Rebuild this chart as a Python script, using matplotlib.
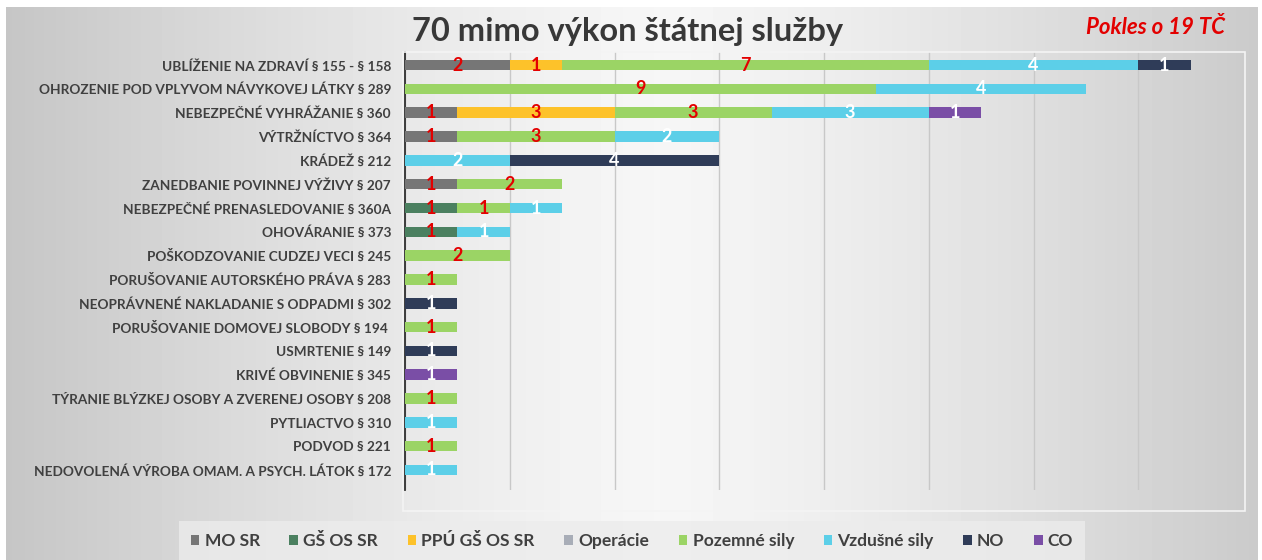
import numpy as np
import matplotlib
matplotlib.use('Agg')
import matplotlib.pyplot as plt
from matplotlib.patches import Rectangle, Patch

# categories, top to bottom
categories = [
    'UBLÍŽENIE NA ZDRAVÍ § 155 - § 158',
    'OHROZENIE POD VPLYVOM NÁVYKOVEJ LÁTKY § 289',
    'NEBEZPEČNÉ VYHRÁŽANIE § 360',
    'VÝTRŽNÍCTVO § 364',
    'KRÁDEŽ § 212',
    'ZANEDBANIE POVINNEJ VÝŽIVY § 207',
    'NEBEZPEČNÉ PRENASLEDOVANIE § 360A',
    'OHOVÁRANIE § 373',
    'POŠKODZOVANIE CUDZEJ VECI § 245',
    'PORUŠOVANIE AUTORSKÉHO PRÁVA § 283',
    'NEOPRÁVNENÉ NAKLADANIE S ODPADMI § 302',
    'PORUŠOVANIE DOMOVEJ SLOBODY § 194 ',
    'USMRTENIE § 149',
    'KRIVÉ OBVINENIE § 345',
    'TÝRANIE BLÝZKEJ OSOBY A ZVERENEJ OSOBY § 208',
    'PYTLIACTVO § 310',
    'PODVOD § 221',
    'NEDOVOLENÁ VÝROBA OMAM. A PSYCH. LÁTOK § 172',
]

series_names = ['MO SR', 'GŠ OS SR', 'PPÚ GŠ OS SR', 'Operácie',
                'Pozemné sily', 'Vzdušné sily', 'NO', 'CO']

mo_sr      = [2, 0, 1, 1, 0, 1, 0, 0, 0, 0, 0, 0, 0, 0, 0, 0, 0, 0]
gs_os_sr   = [0, 0, 0, 0, 0, 0, 1, 1, 0, 0, 0, 0, 0, 0, 0, 0, 0, 0]
ppu_gs     = [1, 0, 3, 0, 0, 0, 0, 0, 0, 0, 0, 0, 0, 0, 0, 0, 0, 0]
operacie   = [0, 0, 0, 0, 0, 0, 0, 0, 0, 0, 0, 0, 0, 0, 0, 0, 0, 0]
pozemne    = [7, 9, 3, 3, 0, 2, 1, 0, 2, 1, 0, 1, 0, 0, 1, 0, 1, 0]
vzdusne    = [4, 4, 3, 2, 2, 0, 1, 1, 0, 0, 0, 0, 0, 0, 0, 1, 0, 1]
no_vals    = [1, 0, 0, 0, 4, 0, 0, 0, 0, 0, 1, 0, 1, 0, 0, 0, 0, 0]
co_vals    = [0, 0, 1, 0, 0, 0, 0, 0, 0, 0, 0, 0, 0, 1, 0, 0, 0, 0]

series = [mo_sr, gs_os_sr, ppu_gs, operacie, pozemne, vzdusne, no_vals, co_vals]
colors = ['#767676', '#4b8060', '#fdc22a', '#a8adb7', '#9bd465', '#5ccfe8', '#2f3c58', '#7a4ea6']
label_colors = ['#e30000', '#e30000', '#e30000', '#e30000', '#e30000', 'white', 'white', 'white']

W, H = 1262, 560
fig = plt.figure(figsize=(W / 100, H / 100), dpi=100)
fig.patch.set_facecolor('white')

# gradient background
bg = fig.add_axes([6 / W, 0, 1 - 10 / W, 1 - 7 / H])
xs = np.linspace(0, 1, 400)
shade = 0.965 - 0.19 * (np.abs(xs - 0.52) / 0.52) ** 1.3
bg.imshow(np.tile(shade, (10, 1)), cmap='gray', vmin=0, vmax=1, aspect='auto',
          extent=[0, 1, 0, 1])
bg.axis('off')

# plot area frame
fig.patches.append(Rectangle((403 / W, 1 - 511 / H), (1245 - 403) / W, (511 - 52) / H,
                             transform=fig.transFigure, fill=False,
                             edgecolor='#f4f4f4', linewidth=1.2, zorder=1))

ax = fig.add_axes([405 / W, 1 - 490 / H, (1243 - 405) / W, (490 - 52) / H])
ax.set_facecolor('none')

y = np.arange(len(categories))
left = np.zeros(len(categories))
for vals, col, lc in zip(series, colors, label_colors):
    vals = np.array(vals, dtype=float)
    ax.barh(y, vals, left=left, height=0.44, color=col, zorder=3)
    for i, v in enumerate(vals):
        if v > 0:
            ax.text(left[i] + v / 2, y[i], f'{int(v)}', ha='center', va='center',
                    color=lc, fontsize=13, fontweight='bold', family='Lato', zorder=4)
    left += vals

ax.set_xlim(0, 16)
ax.set_ylim(17.84, -0.55)
ax.set_xticks(np.arange(0, 17, 2))
ax.set_xticklabels([])
ax.tick_params(axis='x', length=0)
ax.tick_params(axis='y', length=0, pad=10)
ax.set_yticks(y)
ax.set_yticklabels(categories, fontsize=9.8, fontweight='bold', color='#404040', family='Lato')
ax.grid(axis='x', color='#c8c8c8', linewidth=1, zorder=0)
for s in ['top', 'right', 'bottom']:
    ax.spines[s].set_visible(False)
ax.spines['left'].set_color('#303030')
ax.spines['left'].set_linewidth(1.3)

fig.text(628 / W, 1 - 31 / H, '70 mimo výkon štátnej služby', ha='center', va='center',
         fontsize=23.5, fontweight='bold', color='#383838', family='Lato')
fig.text(1155 / W, 1 - 28 / H, 'Pokles o 19 TČ', ha='center', va='center',
         fontsize=16, fontweight='bold', style='italic', color='#e30000', family='Lato')

handles = [Patch(facecolor=c, label=n) for c, n in zip(colors, series_names)]
leg = fig.legend(handles=handles, loc='center', bbox_to_anchor=(632 / W, 1 - 541 / H),
                 ncol=8, frameon=True, handlelength=0.5, handleheight=0.5,
                 handletextpad=0.3, columnspacing=1.7, borderpad=0.4,
                 prop={'family': 'Lato', 'weight': 'bold', 'size': 12.5})
leg.get_frame().set_facecolor('#ececec')
leg.get_frame().set_edgecolor('none')
leg.get_frame().set_boxstyle('square', pad=0.3)
for t in leg.get_texts():
    t.set_color('#404040')

fig.savefig('out.png', dpi=100)
